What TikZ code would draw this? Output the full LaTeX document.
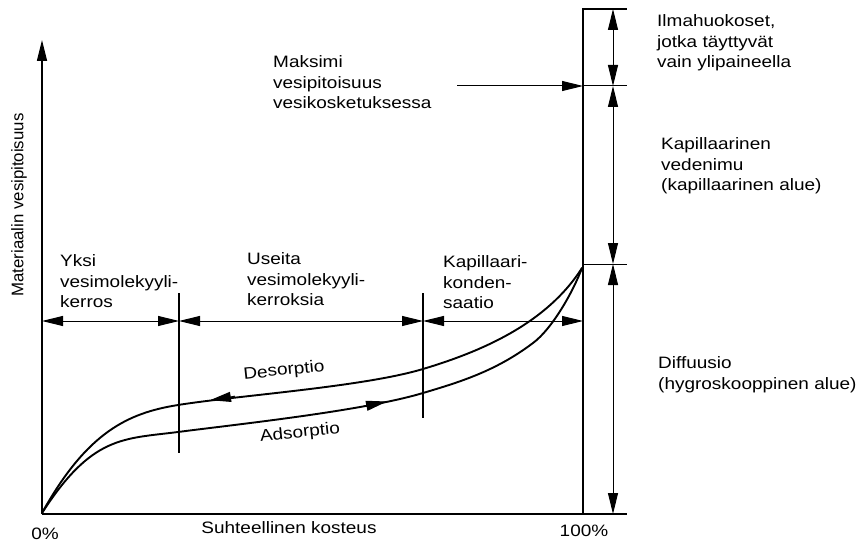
\documentclass[tikz,border=0pt]{standalone}
\usepackage{fontspec}
\setmainfont{Liberation Sans}[FakeStretch=1.15]
\newfontfamily\ylabfont{Liberation Sans}
\usetikzlibrary{arrows.meta}
\begin{document}
\begin{tikzpicture}[x=1pt,y=1pt,
  >={Triangle[length=21pt,width=10pt]},
  txt/.style={font=\fontsize{16.5}{20.5}\selectfont},
  lbl/.style={txt, align=left, anchor=north west, inner sep=0pt},
  axis/.style={line width=1.3pt},
  dim/.style={line width=1pt},
  tick/.style={line width=1.3pt},
  curve/.style={line width=1.9pt, line join=round, line cap=round}]
\useasboundingbox (0,0) rectangle (862,542);
% key coordinates
\coordinate (O) at (42,28);
\coordinate (Ytop) at (42,502);
\coordinate (Xend) at (627,28);
\coordinate (Hb) at (583,28);
\coordinate (Ht) at (583,533);
\coordinate (Tr) at (627,533);
\coordinate (Mk) at (583,456);
\coordinate (Mkr) at (627,456);
\coordinate (Mks) at (457,456);
\coordinate (Kp) at (583,278);
\coordinate (Kpr) at (627,278);
\coordinate (D1) at (613,533);
\coordinate (D2) at (613,456);
\coordinate (D3) at (613,278);
\coordinate (D4) at (613,28);
\coordinate (H0) at (42,221);
\coordinate (H1) at (179,221);
\coordinate (H2) at (423,221);
\coordinate (H3) at (583,221);
\coordinate (T1a) at (179,249);
\coordinate (T1b) at (179,89);
\coordinate (T2a) at (423,249);
\coordinate (T2b) at (423,124);
\coordinate (C0) at (42,29);
\coordinate (CE) at (582,274);
% axes
\draw[axis,->] (O) -- (Ytop);
\draw[axis] (O) -- (Xend);
\draw[axis] (Hb) -- (Ht) -- (Tr);
\draw[dim] (Mk) -- (Mkr);
\draw[dim] (Kp) -- (Kpr);
\draw[dim,->] (Mks) -- (Mk);
% vertical dimension arrows
\draw[dim,<->] (D1) -- (D2);
\draw[dim,<->] (D2) -- (D3);
\draw[dim,<->] (D3) -- (D4);
% horizontal dimension arrows
\draw[dim,<->] (H0) -- (H1);
\draw[dim,<->] (H1) -- (H2);
\draw[dim,<->] (H2) -- (H3);
\draw[tick] (T1a) -- (T1b);
\draw[tick] (T2a) -- (T2b);
% desorption curve
\draw[curve] (C0) .. controls (87,110) and (128,129) .. (178,137)
  .. controls (238,146.6) and (363,155) .. (423,173)
  .. controls (483,191) and (547,219) .. (CE);
% adsorption curve
\draw[curve] (C0) .. controls (92,106.5) and (123,103) .. (178,110)
  .. controls (238,117.8) and (363,131) .. (423,149)
  .. controls (460,160) and (496,171) .. (533,199)
  .. controls (552,213) and (573,250) .. (CE);
\coordinate (Da) at (235,145.8);
\coordinate (Db) at (210,141.8);
\coordinate (Aa) at (363,135.5);
\coordinate (Ab) at (387,140.5);
\draw[line width=1pt,->] (Da) -- (Db);
\draw[line width=1pt,->] (Aa) -- (Ab);
% labels
\node[txt, rotate=6] (des) at (284,171) {Desorptio};
\node[txt, rotate=6] (ads) at (300,109) {Adsorptio};
\node[lbl] (yksi) at (60,287.5) {Yksi\\vesimolekyyli-\\kerros};
\node[lbl] (useita) at (247,289.5) {Useita\\vesimolekyyli-\\kerroksia};
\node[lbl] (kond) at (443,286.5) {Kapillaari-\\konden-\\saatio};
\node[lbl] (maks) at (273,486.5) {Maksimi\\vesipitoisuus\\vesikosketuksessa};
\node[lbl] (ilma) at (657,527.5) {Ilmahuokoset,\\jotka täyttyvät\\vain ylipaineella};
\node[lbl] (kap) at (661,404.5) {Kapillaarinen\\vedenimu\\(kapillaarinen alue)};
\node[lbl] (diff) at (658,185.5) {Diffuusio\\(hygroskooppinen alue)};
\node[txt] (p0) at (45,8) {0\%};
\node[txt] (sk) at (289,14) {Suhteellinen kosteus};
\node[txt] (p100) at (584,11) {100\%};
\node[font=\ylabfont\fontsize{16.8}{20}\selectfont, rotate=90] (ylab) at (19,337) {Materiaalin vesipitoisuus};
\end{tikzpicture}
\end{document}
